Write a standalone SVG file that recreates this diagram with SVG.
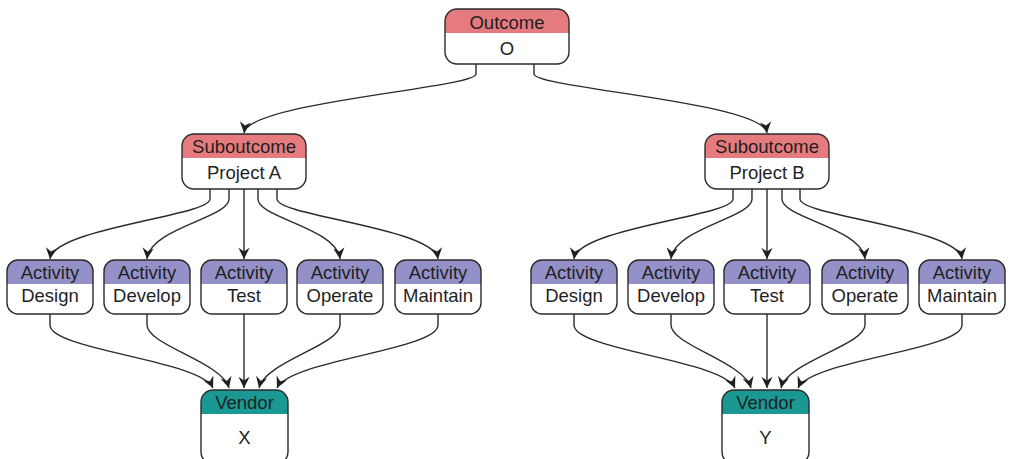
<svg xmlns="http://www.w3.org/2000/svg" xmlns:xlink="http://www.w3.org/1999/xlink" width="1009" height="459" viewBox="0 0 1009 459">
  <style>
    .frame { fill: none; stroke: #2b2b2b; stroke-width: 1.4; }
    .body { fill: #ffffff; }
    .head-red { fill: #e57b7e; }
    .head-violet { fill: #9491c9; }
    .head-teal { fill: #1a9893; }
    text { font-family: "Liberation Sans", Arial, sans-serif; font-size: 18.5px; fill: #1f1f1f; text-anchor: middle; }
    .edge { fill: none; stroke: #2b2b2b; stroke-width: 1.4; marker-end: url(#arrow); }
  </style>
  <defs>
    <marker id="arrow" markerUnits="userSpaceOnUse" markerWidth="14" markerHeight="14" refX="0" refY="0" viewBox="-13 -7 15 14" orient="auto">
      <path d="M0,0 L-12,-6 L-8,0 L-12,6 Z" fill="#1f1f1f"/>
    </marker>
    <!-- outcome / suboutcome card: 124 x 55, header 24 -->
    <symbol id="card-red" overflow="visible">
      <rect class="body" x="0" y="0" width="124" height="55" rx="12"/>
      <path class="head-red" d="M0,24 V12 A12,12 0 0 1 12,0 H112 A12,12 0 0 1 124,12 V24 Z"/>
      <rect class="frame" x="0" y="0" width="124" height="55" rx="12"/>
    </symbol>
    <!-- activity card: 86 x 54, header 24 -->
    <symbol id="card-violet" overflow="visible">
      <rect class="body" x="0" y="0" width="86" height="54" rx="11"/>
      <path class="head-violet" d="M0,24 V11 A11,11 0 0 1 11,0 H75 A11,11 0 0 1 86,11 V24 Z"/>
      <rect class="frame" x="0" y="0" width="86" height="54" rx="11"/>
    </symbol>
    <!-- vendor card: 87 x 74, header 24 -->
    <symbol id="card-teal" overflow="visible">
      <rect class="body" x="0" y="0" width="87" height="74" rx="12"/>
      <path class="head-teal" d="M0,24 V12 A12,12 0 0 1 12,0 H75 A12,12 0 0 1 87,12 V24 Z"/>
      <rect class="frame" x="0" y="0" width="87" height="74" rx="12"/>
    </symbol>
  </defs>

  <g id="connectors">
    <!-- outcome to suboutcomes -->
    <path class="edge" d="M476,64 V74 C476,88 248,102 244,133"/>
    <path class="edge" d="M534,64 V74 C534,88 763,102 767,133"/>
    <!-- project A to activities -->
    <path class="edge" d="M210,188 V199 C210,216 54,228 50,259"/>
    <path class="edge" d="M229,188 V199 C229,218 150,228 147,259"/>
    <path class="edge" d="M244,188 V259"/>
    <path class="edge" d="M258,188 V199 C258,218 337,228 340,259"/>
    <path class="edge" d="M277,188 V199 C277,216 434,228 438,259"/>
    <!-- project B to activities -->
    <path class="edge" d="M733,188 V199 C733,216 578,228 574,259"/>
    <path class="edge" d="M752,188 V199 C752,218 674,228 671,259"/>
    <path class="edge" d="M767,188 V259"/>
    <path class="edge" d="M782,188 V199 C782,218 862,228 865,259"/>
    <path class="edge" d="M800,188 V199 C800,216 958,228 962,259"/>
    <!-- activities to vendor X -->
    <path class="edge" d="M50,314 V325 C50,350 200,360 213,388"/>
    <path class="edge" d="M147,314 V325 C147,345 222,362 229,388"/>
    <path class="edge" d="M244,314 V388"/>
    <path class="edge" d="M340,314 V325 C340,345 265,362 259,388"/>
    <path class="edge" d="M438,314 V325 C438,350 290,360 277,388"/>
    <!-- activities to vendor Y -->
    <path class="edge" d="M574,314 V325 C574,350 722,360 735,388"/>
    <path class="edge" d="M671,314 V325 C671,345 744,362 751,388"/>
    <path class="edge" d="M767,314 V388"/>
    <path class="edge" d="M865,314 V325 C865,345 787,362 781,388"/>
    <path class="edge" d="M962,314 V325 C962,350 811,360 798,388"/>
  </g>

  <g id="outcome-o" transform="translate(445,9)">
    <use href="#card-red" xlink:href="#card-red"/>
    <text x="62" y="19.5">Outcome</text>
    <text x="62" y="46">O</text>
  </g>

  <g id="suboutcome-a" transform="translate(182,134)">
    <use href="#card-red" xlink:href="#card-red"/>
    <text x="62" y="19">Suboutcome</text>
    <text x="62" y="45">Project A</text>
  </g>
  <g id="suboutcome-b" transform="translate(705,134)">
    <use href="#card-red" xlink:href="#card-red"/>
    <text x="62" y="19">Suboutcome</text>
    <text x="62" y="45">Project B</text>
  </g>

  <g id="activity-a-design" transform="translate(7,260)">
    <use href="#card-violet" xlink:href="#card-violet"/>
    <text x="43" y="19">Activity</text>
    <text x="43" y="42">Design</text>
  </g>
  <g id="activity-a-develop" transform="translate(104,260)">
    <use href="#card-violet" xlink:href="#card-violet"/>
    <text x="43" y="19">Activity</text>
    <text x="43" y="42">Develop</text>
  </g>
  <g id="activity-a-test" transform="translate(201,260)">
    <use href="#card-violet" xlink:href="#card-violet"/>
    <text x="43" y="19">Activity</text>
    <text x="43" y="42">Test</text>
  </g>
  <g id="activity-a-operate" transform="translate(297,260)">
    <use href="#card-violet" xlink:href="#card-violet"/>
    <text x="43" y="19">Activity</text>
    <text x="43" y="42">Operate</text>
  </g>
  <g id="activity-a-maintain" transform="translate(395,260)">
    <use href="#card-violet" xlink:href="#card-violet"/>
    <text x="43" y="19">Activity</text>
    <text x="43" y="42">Maintain</text>
  </g>

  <g id="activity-b-design" transform="translate(531,260)">
    <use href="#card-violet" xlink:href="#card-violet"/>
    <text x="43" y="19">Activity</text>
    <text x="43" y="42">Design</text>
  </g>
  <g id="activity-b-develop" transform="translate(628,260)">
    <use href="#card-violet" xlink:href="#card-violet"/>
    <text x="43" y="19">Activity</text>
    <text x="43" y="42">Develop</text>
  </g>
  <g id="activity-b-test" transform="translate(724,260)">
    <use href="#card-violet" xlink:href="#card-violet"/>
    <text x="43" y="19">Activity</text>
    <text x="43" y="42">Test</text>
  </g>
  <g id="activity-b-operate" transform="translate(822,260)">
    <use href="#card-violet" xlink:href="#card-violet"/>
    <text x="43" y="19">Activity</text>
    <text x="43" y="42">Operate</text>
  </g>
  <g id="activity-b-maintain" transform="translate(919,260)">
    <use href="#card-violet" xlink:href="#card-violet"/>
    <text x="43" y="19">Activity</text>
    <text x="43" y="42">Maintain</text>
  </g>

  <g id="vendor-x" transform="translate(201,390)">
    <use href="#card-teal" xlink:href="#card-teal"/>
    <text x="43.5" y="19">Vendor</text>
    <text x="43.5" y="54">X</text>
  </g>
  <g id="vendor-y" transform="translate(722,390)">
    <use href="#card-teal" xlink:href="#card-teal"/>
    <text x="43.5" y="19">Vendor</text>
    <text x="43.5" y="54">Y</text>
  </g>
</svg>
